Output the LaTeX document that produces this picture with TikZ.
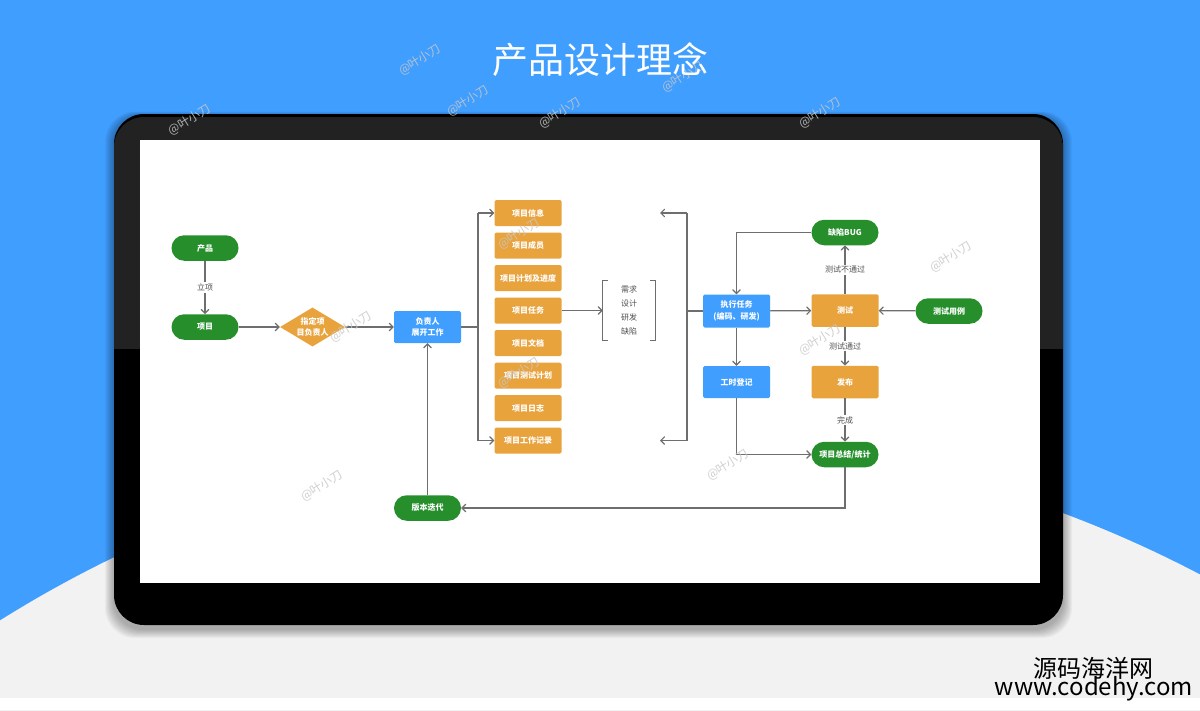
\documentclass[tikz,border=0pt]{standalone}
\usepackage{fontspec}
\setmainfont{Noto Sans CJK SC}
\usetikzlibrary{arrows, shapes.geometric}

\definecolor{bgblue}{RGB}{64,158,255}
\definecolor{lightbg}{RGB}{242,242,242}
\definecolor{framegray}{RGB}{34,34,34}
\definecolor{flowgreen}{RGB}{38,143,44}
\definecolor{flowblue}{RGB}{64,158,255}
\definecolor{floworange}{RGB}{232,163,61}
\definecolor{linegray}{RGB}{110,110,110}
\definecolor{notegray}{RGB}{80,80,80}
\definecolor{wmgray}{RGB}{200,200,200}

\newcommand{\flowfont}{\bfseries\fontsize{8}{11.5}\selectfont}

\begin{document}
\begin{tikzpicture}[x=1pt, y=-1pt]
        \tikzstyle{every node}+=[inner sep=0pt]
        \tikzstyle{pill}=[rectangle, rounded corners=12.7pt, fill=flowgreen, minimum width=67pt, minimum height=25.5pt, text=white, font=\flowfont]
        \tikzstyle{task}=[rectangle, rounded corners=1.5pt, fill=flowblue, minimum width=67pt, minimum height=32pt, text=white, align=center, font=\flowfont]
        \tikzstyle{item}=[task, fill=floworange, minimum height=26pt]
        \tikzstyle{work}=[task, fill=floworange, minimum height=32.5pt]
        \tikzstyle{decide}=[diamond, fill=floworange, minimum width=65pt, minimum height=39pt]
        \tikzstyle{note}=[fill=white, text=notegray, inner sep=1.5pt, font=\fontsize{8}{10}\selectfont]
        \tikzstyle{flow}=[line width=1.2pt, draw=linegray]
        \tikzstyle{flowarrow}=[flow, arrows=-angle 90]
        \tikzstyle{wmark}=[text=wmgray, opacity=0.85, rotate=32, font=\fontsize{12}{12}\selectfont]

        \useasboundingbox (0,0) rectangle (1200,710);
        \clip (0,0) rectangle (1200,710);

        % background and screen
        \fill [bgblue] (0,0) rectangle (1200,710);
        \fill [lightbg] (640,1644) circle [radius=1207pt];
        \fill [white] (0,698) rectangle (1200,710);
        \foreach \s in {1,...,9}
          \fill [black, opacity=0.035, rounded corners=30pt] (114-\s,116-0.5*\s) rectangle (1063+\s,629+\s);
        \fill [black, rounded corners=30pt] (114,114) rectangle (1063,625);
        \begin{scope}
          \clip [rounded corners=30pt] (114,117) rectangle (1063,625);
          \fill [framegray] (114,117) rectangle (1063,349);
        \end{scope}
        \fill [white] (140,140) rectangle (1040,583);

        % left part
        \node [pill] (cp) at (205,248) {产品};
        \node [pill] (xm) at (205,327) {项目};
        \node [decide] (zd) at (312.5,327) {};
        \node [text=white, align=center, font=\bfseries\fontsize{8}{11}\selectfont] (zdt) at (zd) {指定项\\目负责人};
        \node [task] (fz) at (427.5,327) {负责人\\展开工作};
        \node [pill] (bb) at (427.5,508) {版本迭代};

        \draw [flowarrow] (cp) -- node [note] (lx) {立项} (xm);
        \draw [flowarrow] (xm) -- (zd);
        \draw [flowarrow] (zd) -- (fz);
        \draw [flowarrow] (bb) -- (fz);

        % project items
        \foreach \t [count=\i] in {项目信息,项目成员,项目计划及进度,项目任务,项目文档,项目测试计划,项目日志,项目工作记录}
          \node [item] (it\i) at (528,180.5+32.5*\i) {\t};

        \coordinate (lt) at (478,213);
        \coordinate (lb) at (478,440.5);
        \draw [flow] (fz.east) -- (fz.east -| lt);
        \draw [flow] (lt) -- (lb);
        \draw [flowarrow] (lt) -- (it1.west);
        \draw [flowarrow] (lb) -- (it8.west);

        \node [note, fill=none, align=center, minimum width=52pt, minimum height=59pt, font=\fontsize{8}{14.3}\selectfont] (rq) at (629,310.5) {需求\\设计\\研发\\缺陷};
        \draw [flow] ([xshift=5pt]rq.north west) -- (rq.north west) -- (rq.south west) -- ([xshift=5pt]rq.south west);
        \draw [flow] ([xshift=-5pt]rq.north east) -- (rq.north east) -- (rq.south east) -- ([xshift=-5pt]rq.south east);
        \draw [flowarrow] (it4) -- (rq);

        \coordinate (rt) at (687,213);
        \coordinate (rb) at (687,440.5);
        \coordinate (rtl) at (660,213);
        \coordinate (rbl) at (660,440.5);
        \draw [flow] (rt) -- (rb);
        \draw [flowarrow] (rt) -- (rtl);
        \draw [flowarrow] (rb) -- (rbl);

        % right part
        \node [task, minimum height=33pt] (zx) at (736.5,311) {执行任务\\(编码、研发)};
        \node [task] (gs) at (736.5,382) {工时登记};
        \node [work] (cs) at (845,310.5) {测试};
        \node [work] (fb) at (845,382) {发布};
        \node [pill] (bug) at (845,232.5) {缺陷BUG};
        \node [pill] (zj) at (845,454.5) {项目总结/统计};
        \node [pill] (yl) at (949,311) {测试用例};

        \draw [flow] (zx.west -| rt) -- (zx.west);
        \draw [flowarrow] (zx) -- (cs);
        \draw [flowarrow] (yl) -- (cs);
        \draw [flowarrow] (cs) -- node [note] (bt) {测试不通过} (bug);
        \draw [flowarrow] (cs) -- node [note] (tg) {测试通过} (fb);
        \draw [flowarrow] (fb) -- node [note] (wc) {完成} (zj);
        \draw [flowarrow] (bug) -| (zx);
        \draw [flowarrow] (zx) -- (gs);
        \draw [flowarrow] (gs) |- (zj);
        \draw [flowarrow] (zj) |- (bb);

        % watermarks
        \foreach \x/\y [count=\i] in {420/60, 190/120, 468/101, 560/113, 683/77, 820/113, 351/327, 322/486, 519/234, 519/373, 951/257, 820/340, 728/465}
          \node [wmark] (wm\i) at (\x,\y) {@叶小刀};

        \node [text=white, font=\fontsize{36}{40}\selectfont] (title) at (600,60) {产品设计理念};
        \node [font=\fontsize{24}{28}\selectfont] (site) at (1093,668) {源码海洋网};
        \node [font=\fontsize{24}{26}\selectfont] (url) at (1094,689) {www.codehy.com};
\end{tikzpicture}
\end{document}
